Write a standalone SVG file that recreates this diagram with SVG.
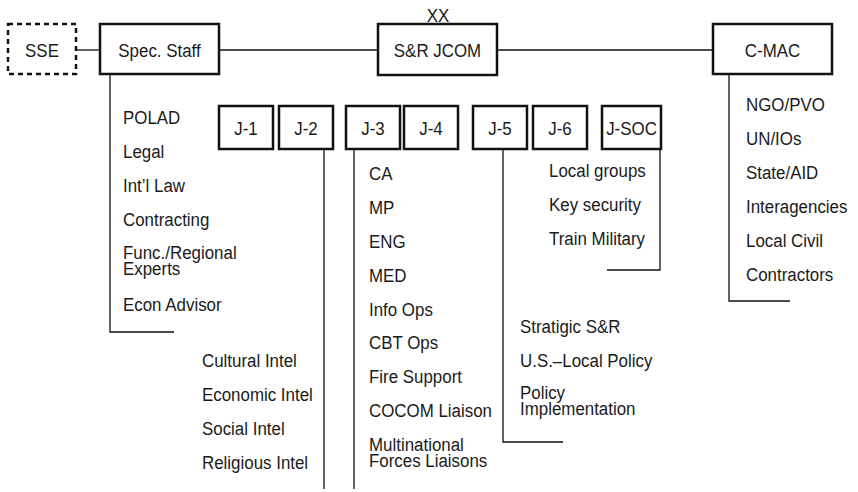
<svg xmlns="http://www.w3.org/2000/svg" width="858" height="492" viewBox="0 0 858 492">
<style>
text{font-family:'Liberation Sans',Arial,sans-serif;font-size:19px;fill:#1a1a1a}
.c{text-anchor:middle}
.box{fill:#fff;stroke:#111;stroke-width:2.5}
.dash{fill:#fff;stroke:#111;stroke-width:2.5;stroke-dasharray:5 4}
.ln{fill:none;stroke:#111;stroke-width:1.3}
</style>
<rect width="858" height="492" fill="#fff"/>
<g id="connectors">
<path class="ln" d="M76 50H100"/>
<path class="ln" d="M219 50H378"/>
<path class="ln" d="M497 50H713"/>
<path class="ln" d="M110 74V332H174"/>
<path class="ln" d="M729 74V301H790"/>
<path class="ln" d="M324 149V489"/>
<path class="ln" d="M354 149V489"/>
<path class="ln" d="M503 149V442H563"/>
<path class="ln" d="M660 149V270H607"/>
</g>
<g id="sse"><rect class="dash" x="8" y="24" width="68" height="50"/><text class="c" transform="matrix(0.89 0 0 1 42 0)" x="0" y="57">SSE</text></g>
<g id="spec-staff"><rect class="box" x="100" y="24" width="119" height="50"/><text class="c" transform="matrix(0.89 0 0 1 159.5 0)" x="0" y="57">Spec. Staff</text></g>
<g id="sr-jcom"><text class="c" transform="matrix(0.89 0 0 1 438 0)" x="0" y="22">XX</text><rect class="box" x="378" y="24" width="119" height="51"/><text class="c" transform="matrix(0.89 0 0 1 437.5 0)" x="0" y="57">S&amp;R JCOM</text></g>
<g id="c-mac"><rect class="box" x="713" y="24" width="119" height="50"/><text class="c" transform="matrix(0.89 0 0 1 772.5 0)" x="0" y="57">C-MAC</text></g>
<g id="j1"><rect class="box" x="219" y="106" width="54" height="43"/><text class="c" transform="matrix(0.89 0 0 1 246 0)" x="0" y="135">J-1</text></g>
<g id="j2"><rect class="box" x="279" y="106" width="54" height="43"/><text class="c" transform="matrix(0.89 0 0 1 306 0)" x="0" y="135">J-2</text></g>
<g id="j3"><rect class="box" x="346" y="106" width="54" height="43"/><text class="c" transform="matrix(0.89 0 0 1 373 0)" x="0" y="135">J-3</text></g>
<g id="j4"><rect class="box" x="404" y="106" width="54" height="43"/><text class="c" transform="matrix(0.89 0 0 1 431 0)" x="0" y="135">J-4</text></g>
<g id="j5"><rect class="box" x="473" y="106" width="54" height="43"/><text class="c" transform="matrix(0.89 0 0 1 500 0)" x="0" y="135">J-5</text></g>
<g id="j6"><rect class="box" x="533" y="106" width="54" height="43"/><text class="c" transform="matrix(0.89 0 0 1 560 0)" x="0" y="135">J-6</text></g>
<g id="jsoc"><rect class="box" x="602" y="106" width="59" height="43"/><text class="c" transform="matrix(0.89 0 0 1 631.5 0)" x="0" y="135">J-SOC</text></g>
<g id="spec-list" transform="matrix(0.89 0 0 1 123 0)">
<text x="0" y="124">POLAD</text>
<text x="0" y="158">Legal</text>
<text x="0" y="192">Int’l Law</text>
<text x="0" y="226">Contracting</text>
<text><tspan x="0" y="259">Func./Regional</tspan><tspan x="0" y="275">Experts</tspan></text>
<text x="0" y="311">Econ Advisor</text>
</g>
<g id="j2-list" transform="matrix(0.89 0 0 1 202 0)">
<text x="0" y="367">Cultural Intel</text>
<text x="0" y="401">Economic Intel</text>
<text x="0" y="435">Social Intel</text>
<text x="0" y="469">Religious Intel</text>
</g>
<g id="j3-list" transform="matrix(0.89 0 0 1 369 0)">
<text x="0" y="180">CA</text>
<text x="0" y="214">MP</text>
<text x="0" y="248">ENG</text>
<text x="0" y="282">MED</text>
<text x="0" y="316">Info Ops</text>
<text x="0" y="349">CBT Ops</text>
<text x="0" y="383">Fire Support</text>
<text x="0" y="417">COCOM Liaison</text>
<text><tspan x="0" y="451">Multinational</tspan><tspan x="0" y="467">Forces Liaisons</tspan></text>
</g>
<g id="j5-list" transform="matrix(0.89 0 0 1 520 0)">
<text x="0" y="333">Stratigic S&amp;R</text>
<text x="0" y="367">U.S.–Local Policy</text>
<text><tspan x="0" y="399">Policy</tspan><tspan x="0" y="415">Implementation</tspan></text>
</g>
<g id="jsoc-list" transform="matrix(0.89 0 0 1 549 0)">
<text x="0" y="177">Local groups</text>
<text x="0" y="211">Key security</text>
<text x="0" y="245">Train Military</text>
</g>
<g id="cmac-list" transform="matrix(0.89 0 0 1 746 0)">
<text x="0" y="111">NGO/PVO</text>
<text x="0" y="145">UN/IOs</text>
<text x="0" y="179">State/AID</text>
<text x="0" y="213">Interagencies</text>
<text x="0" y="247">Local Civil</text>
<text x="0" y="281">Contractors</text>
</g>
</svg>
